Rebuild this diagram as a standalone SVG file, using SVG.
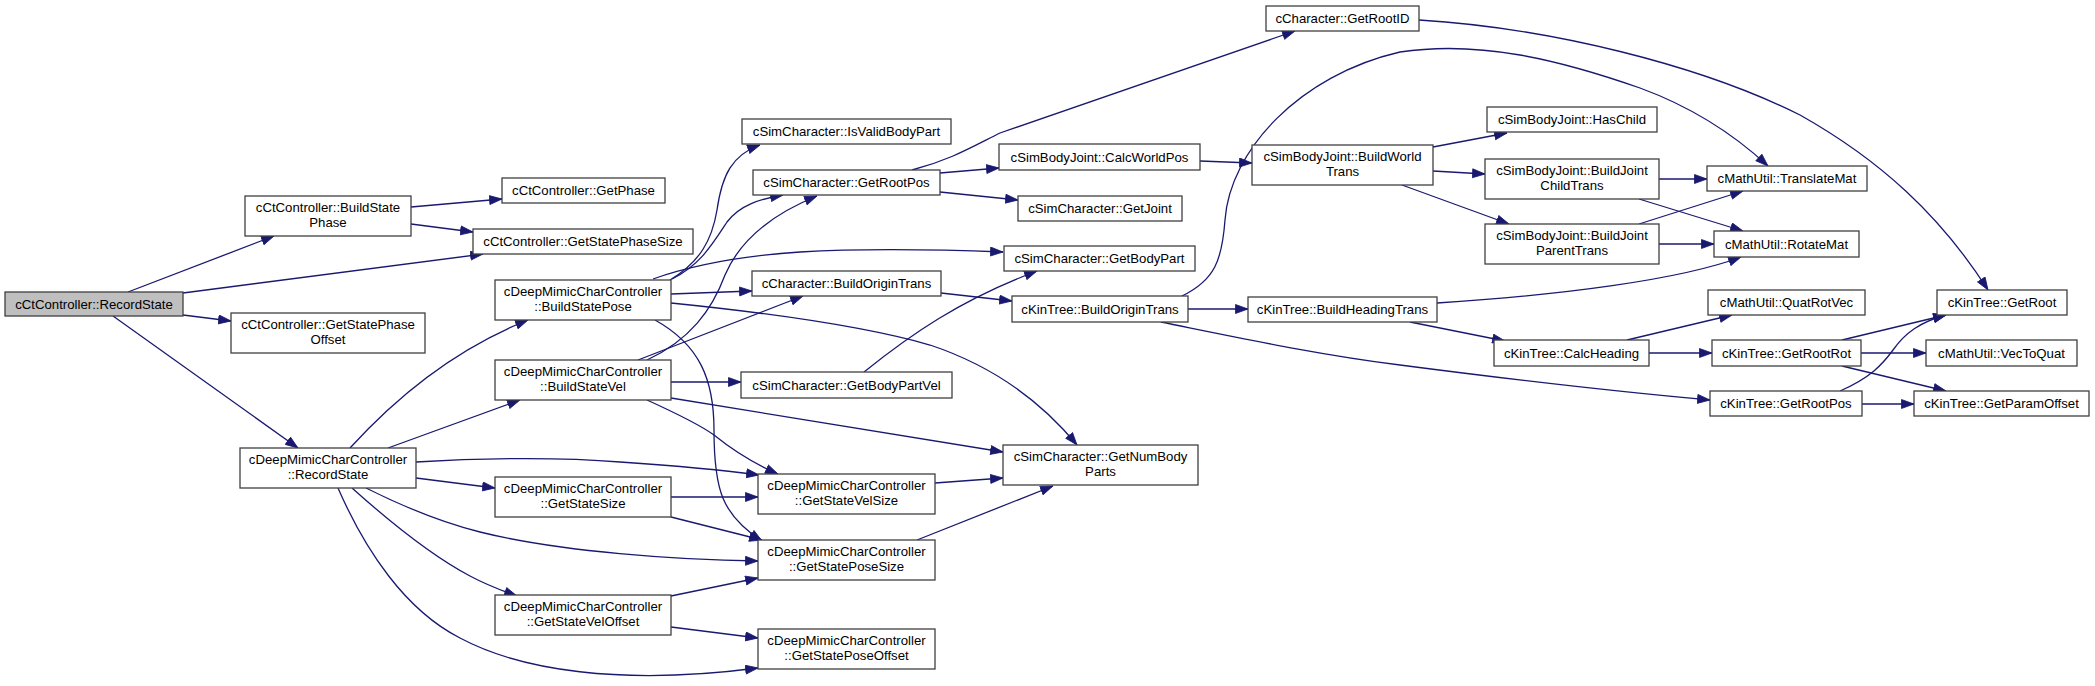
<svg xmlns="http://www.w3.org/2000/svg" width="2095" height="686" viewBox="0 0 2095 686">
<style>
.n rect{fill:#fff;stroke:#404040;stroke-width:1.3}
.n.root rect{fill:#bfbfbf}
.n text{font-family:"Liberation Sans",Arial,sans-serif;font-size:13.2px;fill:#000;text-anchor:middle}
.e path{fill:none;stroke:#191970;stroke-width:1.3;marker-end:url(#ah)}
</style>
<defs>
<marker id="ah" markerUnits="userSpaceOnUse" markerWidth="14" markerHeight="11" refX="13" refY="5" orient="auto">
<path d="M0.5,0.5 L13,5 L0.5,9.5 z" fill="#191970" stroke="#191970" stroke-width="0.8"/>
</marker>
</defs>
<rect width="2095" height="686" fill="#fff"/>
<g id="edges" class="e">
<path d="M128,292 L274,236"/>
<path d="M183,293 L483,254"/>
<path d="M183,315 L231,321"/>
<path d="M113,316 L298,448"/>
<path d="M411,207 L502,199"/>
<path d="M411,224 L473,232"/>
<path d="M350,448 C380,415 440,355 528,320"/>
<path d="M388,448 L520,400"/>
<path d="M416,462 C480,458 560,457 620,462 C680,466 730,471 759,475"/>
<path d="M416,478 L495,488"/>
<path d="M366,488 C400,505 440,522 480,532 C560,552 680,560 758,561"/>
<path d="M352,488 C390,522 430,555 470,576 C485,584 500,590 517,596"/>
<path d="M338,488 C365,550 405,610 460,638 C520,670 620,686 758,668"/>
<path d="M670,280 C700,262 712,240 717,210 C722,175 732,155 760,145"/>
<path d="M672,279 C700,265 712,245 727,222 C740,205 760,199 783,195"/>
<path d="M653,279 C690,266 740,256 800,252 C870,248 950,250 1003,252"/>
<path d="M671,294 L752,291"/>
<path d="M671,303 C760,312 860,325 930,345 C990,365 1040,400 1077,445"/>
<path d="M655,320 C700,345 714,380 714,430 C714,490 722,515 762,541"/>
<path d="M647,360 C690,340 712,310 725,275 C740,240 770,215 817,196"/>
<path d="M638,360 L803,296"/>
<path d="M671,382 L741,382"/>
<path d="M671,398 L1003,452"/>
<path d="M647,400 C680,415 700,425 714,435 C735,452 755,464 778,474"/>
<path d="M671,497 L758,497"/>
<path d="M671,517 L762,540"/>
<path d="M935,483 L1003,478"/>
<path d="M917,540 L1053,486"/>
<path d="M671,596 L758,578"/>
<path d="M671,627 L758,638"/>
<path d="M912,170 C950,160 970,148 1000,133 L1295,31"/>
<path d="M940,173 L999,168"/>
<path d="M940,192 L1018,200"/>
<path d="M1200,161 L1252,163"/>
<path d="M941,293 L1012,301"/>
<path d="M864,372 C910,335 960,300 1037,271"/>
<path d="M1182,296 C1215,280 1222,260 1225,220 C1230,150 1300,75 1400,52 C1480,40 1560,60 1640,88 C1700,110 1740,140 1768,166"/>
<path d="M1188,309 L1248,309"/>
<path d="M1161,322 C1250,340 1320,355 1400,365 C1500,378 1620,392 1710,400"/>
<path d="M1433,147 L1507,133"/>
<path d="M1433,171 L1485,174"/>
<path d="M1402,185 L1509,224"/>
<path d="M1659,179 L1707,179"/>
<path d="M1639,199 L1743,231"/>
<path d="M1639,224 L1743,191"/>
<path d="M1659,244 L1714,244"/>
<path d="M1437,303 C1560,295 1680,280 1741,257"/>
<path d="M1410,322 L1505,341"/>
<path d="M1627,340 L1732,315"/>
<path d="M1649,353 L1712,353"/>
<path d="M1842,340 L1946,315"/>
<path d="M1861,353 L1926,353"/>
<path d="M1842,366 L1946,391"/>
<path d="M1840,391 C1870,378 1882,365 1893,350 C1905,333 1920,322 1946,315"/>
<path d="M1862,404 L1914,404"/>
<path d="M1419,20 C1550,28 1700,65 1800,115 C1880,160 1940,215 1988,290"/>
</g>
<g id="n1" class="n root"><rect x="5" y="292" width="178" height="24"/><text x="94" y="308.5">cCtController::RecordState</text></g>
<g id="n2" class="n"><rect x="245" y="196" width="166" height="40"/><text x="328" y="212">cCtController::BuildState</text><text x="328" y="227">Phase</text></g>
<g id="n3" class="n"><rect x="231" y="313" width="194" height="40"/><text x="328" y="329">cCtController::GetStatePhase</text><text x="328" y="344">Offset</text></g>
<g id="n4" class="n"><rect x="240" y="448" width="176" height="40"/><text x="328" y="464">cDeepMimicCharController</text><text x="328" y="479">::RecordState</text></g>
<g id="n5" class="n"><rect x="502" y="178" width="163" height="25"/><text x="583.5" y="195">cCtController::GetPhase</text></g>
<g id="n6" class="n"><rect x="473" y="229" width="220" height="25"/><text x="583" y="246">cCtController::GetStatePhaseSize</text></g>
<g id="n7" class="n"><rect x="495" y="280" width="176" height="40"/><text x="583" y="296">cDeepMimicCharController</text><text x="583" y="311">::BuildStatePose</text></g>
<g id="n8" class="n"><rect x="495" y="360" width="176" height="40"/><text x="583" y="376">cDeepMimicCharController</text><text x="583" y="391">::BuildStateVel</text></g>
<g id="n9" class="n"><rect x="495" y="477" width="176" height="40"/><text x="583" y="493">cDeepMimicCharController</text><text x="583" y="508">::GetStateSize</text></g>
<g id="n10" class="n"><rect x="495" y="595" width="176" height="40"/><text x="583" y="611">cDeepMimicCharController</text><text x="583" y="626">::GetStateVelOffset</text></g>
<g id="n11" class="n"><rect x="742" y="119" width="209" height="25"/><text x="846.5" y="136">cSimCharacter::IsValidBodyPart</text></g>
<g id="n12" class="n"><rect x="753" y="170" width="187" height="25"/><text x="846.5" y="187">cSimCharacter::GetRootPos</text></g>
<g id="n13" class="n"><rect x="1004" y="246" width="191" height="25"/><text x="1099.5" y="263">cSimCharacter::GetBodyPart</text></g>
<g id="n14" class="n"><rect x="752" y="271" width="189" height="25"/><text x="846.5" y="288">cCharacter::BuildOriginTrans</text></g>
<g id="n15" class="n"><rect x="741" y="372" width="211" height="26"/><text x="846.5" y="389.5">cSimCharacter::GetBodyPartVel</text></g>
<g id="n16" class="n"><rect x="1003" y="445" width="195" height="40"/><text x="1100.5" y="461">cSimCharacter::GetNumBody</text><text x="1100.5" y="476">Parts</text></g>
<g id="n17" class="n"><rect x="758" y="474" width="177" height="40"/><text x="846.5" y="490">cDeepMimicCharController</text><text x="846.5" y="505">::GetStateVelSize</text></g>
<g id="n18" class="n"><rect x="758" y="540" width="177" height="40"/><text x="846.5" y="556">cDeepMimicCharController</text><text x="846.5" y="571">::GetStatePoseSize</text></g>
<g id="n19" class="n"><rect x="758" y="629" width="177" height="40"/><text x="846.5" y="645">cDeepMimicCharController</text><text x="846.5" y="660">::GetStatePoseOffset</text></g>
<g id="n20" class="n"><rect x="1266" y="6" width="153" height="25"/><text x="1342.5" y="23">cCharacter::GetRootID</text></g>
<g id="n21" class="n"><rect x="999" y="144" width="201" height="26"/><text x="1099.5" y="161.5">cSimBodyJoint::CalcWorldPos</text></g>
<g id="n22" class="n"><rect x="1018" y="196" width="164" height="25"/><text x="1100" y="213">cSimCharacter::GetJoint</text></g>
<g id="n23" class="n"><rect x="1012" y="296" width="176" height="26"/><text x="1100" y="313.5">cKinTree::BuildOriginTrans</text></g>
<g id="n24" class="n"><rect x="1252" y="145" width="181" height="40"/><text x="1342.5" y="161">cSimBodyJoint::BuildWorld</text><text x="1342.5" y="176">Trans</text></g>
<g id="n25" class="n"><rect x="1248" y="297" width="189" height="25"/><text x="1342.5" y="314">cKinTree::BuildHeadingTrans</text></g>
<g id="n26" class="n"><rect x="1487" y="107" width="170" height="25"/><text x="1572" y="124">cSimBodyJoint::HasChild</text></g>
<g id="n27" class="n"><rect x="1485" y="159" width="174" height="40"/><text x="1572" y="175">cSimBodyJoint::BuildJoint</text><text x="1572" y="190">ChildTrans</text></g>
<g id="n28" class="n"><rect x="1485" y="224" width="174" height="40"/><text x="1572" y="240">cSimBodyJoint::BuildJoint</text><text x="1572" y="255">ParentTrans</text></g>
<g id="n29" class="n"><rect x="1494" y="340" width="155" height="26"/><text x="1571.5" y="357.5">cKinTree::CalcHeading</text></g>
<g id="n30" class="n"><rect x="1707" y="166" width="160" height="25"/><text x="1787" y="183">cMathUtil::TranslateMat</text></g>
<g id="n31" class="n"><rect x="1714" y="231" width="145" height="26"/><text x="1786.5" y="248.5">cMathUtil::RotateMat</text></g>
<g id="n32" class="n"><rect x="1708" y="290" width="157" height="25"/><text x="1786.5" y="307">cMathUtil::QuatRotVec</text></g>
<g id="n33" class="n"><rect x="1712" y="340" width="149" height="26"/><text x="1786.5" y="357.5">cKinTree::GetRootRot</text></g>
<g id="n34" class="n"><rect x="1710" y="391" width="152" height="25"/><text x="1786" y="408">cKinTree::GetRootPos</text></g>
<g id="n35" class="n"><rect x="1937" y="290" width="130" height="25"/><text x="2002" y="307">cKinTree::GetRoot</text></g>
<g id="n36" class="n"><rect x="1926" y="340" width="151" height="26"/><text x="2001.5" y="357.5">cMathUtil::VecToQuat</text></g>
<g id="n37" class="n"><rect x="1914" y="391" width="175" height="25"/><text x="2001.5" y="408">cKinTree::GetParamOffset</text></g>
</svg>
